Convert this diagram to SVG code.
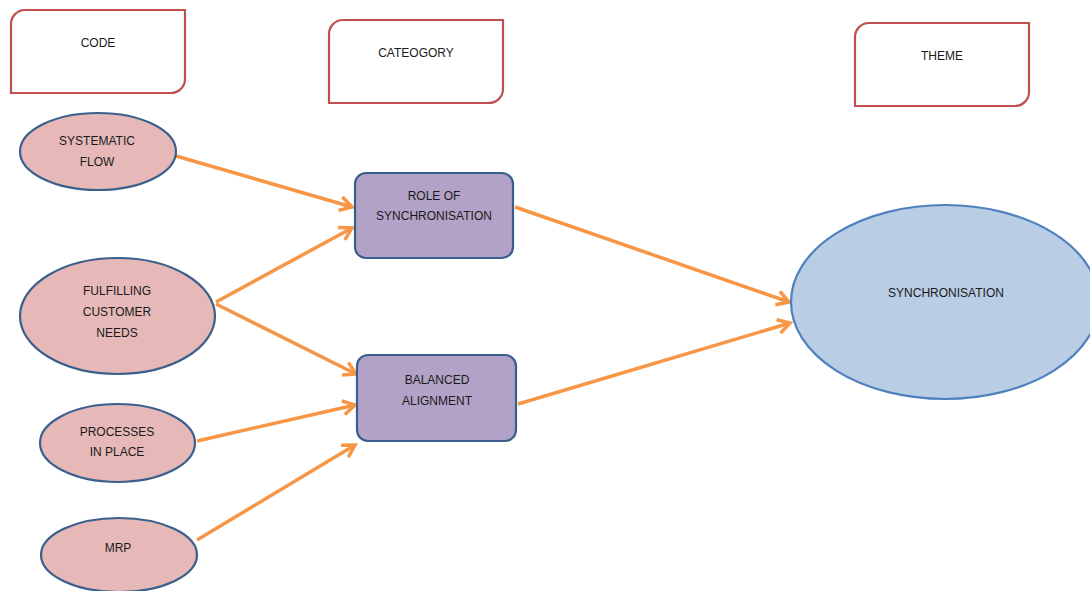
<svg xmlns="http://www.w3.org/2000/svg" width="1090" height="591" viewBox="0 0 1090 591">
  <style>
    text { font-family: "Liberation Sans", Arial, sans-serif; font-size: 12px; fill: #1a1a1a; text-anchor: middle; dominant-baseline: central; }
    .header { fill: #ffffff; stroke: #C0504D; stroke-width: 2.2; }
    .code { fill: #E6B9B8; stroke: #3A5F8C; stroke-width: 2.2; }
    .cat { fill: #B3A2C7; stroke: #3A5F8C; stroke-width: 2.2; }
    .theme { fill: #B9CDE5; stroke: #4F81BD; stroke-width: 2.2; }
    .link { fill: none; stroke: #F79646; stroke-width: 3.5; marker-end: url(#arrow); }
  </style>
  <defs>
    <marker id="arrow" viewBox="0 0 18 18" refX="15" refY="9" markerWidth="18" markerHeight="18" markerUnits="userSpaceOnUse" orient="auto">
      <path d="M3,2 L15,9 L3,16" fill="none" stroke="#F79646" stroke-width="3.5" stroke-linejoin="miter"/>
    </marker>
  </defs>
  <rect width="1090" height="591" fill="#ffffff"/>

  <!-- column headers -->
  <g id="header-code">
    <path class="header" d="M25,10 H185 V79 A14,14 0 0 1 171,93 H11 V24 A14,14 0 0 1 25,10 Z"/>
    <text x="98" y="43">CODE</text>
  </g>
  <g id="header-category">
    <path class="header" d="M343,20 H503 V89 A14,14 0 0 1 489,103 H329 V34 A14,14 0 0 1 343,20 Z"/>
    <text x="416" y="53">CATEOGORY</text>
  </g>
  <g id="header-theme">
    <path class="header" d="M869,23 H1029 V92 A14,14 0 0 1 1015,106 H855 V37 A14,14 0 0 1 869,23 Z"/>
    <text x="942" y="56">THEME</text>
  </g>

  <!-- connectors -->
  <g id="connectors">
    <line class="link" x1="176" y1="156" x2="352" y2="207"/>
    <line class="link" x1="216" y1="302" x2="352" y2="228"/>
    <line class="link" x1="216" y1="304" x2="356" y2="374"/>
    <line class="link" x1="197" y1="441" x2="355" y2="405"/>
    <line class="link" x1="197" y1="540" x2="355" y2="445"/>
    <line class="link" x1="515" y1="207" x2="789" y2="302"/>
    <line class="link" x1="518" y1="404" x2="790" y2="323"/>
  </g>

  <!-- codes -->
  <g id="code-systematic-flow">
    <ellipse class="code" cx="98" cy="151.5" rx="78" ry="38.5"/>
    <text x="97" y="141">SYSTEMATIC</text>
    <text x="97" y="162">FLOW</text>
  </g>
  <g id="code-fulfilling-customer-needs">
    <ellipse class="code" cx="117.5" cy="316" rx="97.5" ry="58"/>
    <text x="117" y="291">FULFILLING</text>
    <text x="117" y="312">CUSTOMER</text>
    <text x="117" y="333">NEEDS</text>
  </g>
  <g id="code-processes-in-place">
    <ellipse class="code" cx="117.5" cy="443" rx="77.5" ry="39"/>
    <text x="117" y="432">PROCESSES</text>
    <text x="117" y="452">IN PLACE</text>
  </g>
  <g id="code-mrp">
    <ellipse class="code" cx="119" cy="555" rx="78" ry="37"/>
    <text x="118" y="548">MRP</text>
  </g>

  <!-- categories -->
  <g id="category-role-of-synchronisation">
    <rect class="cat" x="355" y="173" width="158" height="85" rx="11"/>
    <text x="434" y="196">ROLE OF</text>
    <text x="434" y="216">SYNCHRONISATION</text>
  </g>
  <g id="category-balanced-alignment">
    <rect class="cat" x="357" y="355" width="159" height="86" rx="11"/>
    <text x="437" y="380">BALANCED</text>
    <text x="437" y="401">ALIGNMENT</text>
  </g>

  <!-- theme -->
  <g id="theme-synchronisation">
    <ellipse class="theme" cx="945" cy="302" rx="154" ry="97"/>
    <text x="946" y="293">SYNCHRONISATION</text>
  </g>
</svg>
